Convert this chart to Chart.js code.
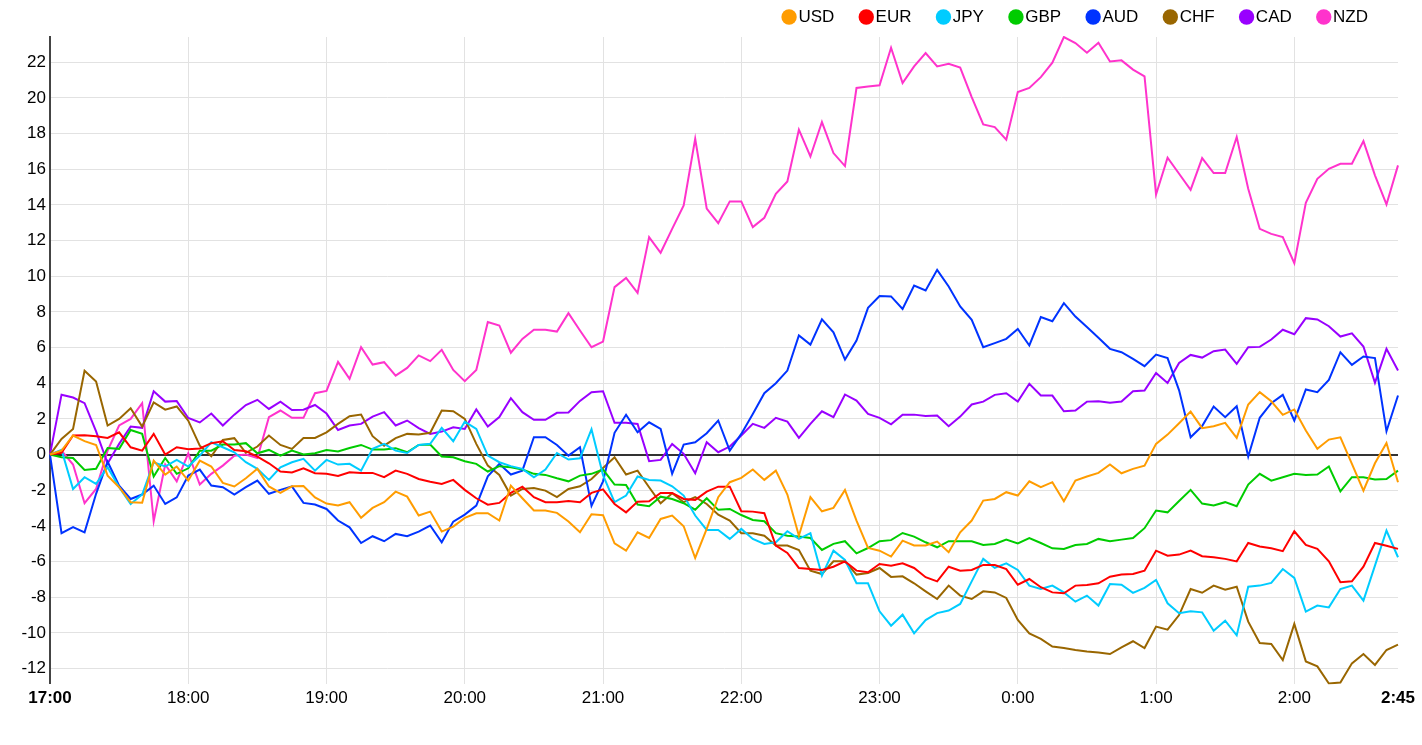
<!DOCTYPE html>
<html>
<head>
<meta charset="utf-8">
<script src="https://cdn.jsdelivr.net/npm/chart.js@4.4.1/dist/chart.umd.min.js"></script>
<style>
  html, body { margin: 0; padding: 0; background: #fff; }
  #wrap { width: 1422px; height: 745px; position: relative; }
</style>
</head>
<body>
<div id="wrap"><canvas id="c"></canvas></div>
<script>
const times = [
"17:00","17:05","17:10","17:15","17:20","17:25","17:30","17:35","17:40","17:45","17:50","17:55",
"18:00","18:05","18:10","18:15","18:20","18:25","18:30","18:35","18:40","18:45","18:50","18:55",
"19:00","19:05","19:10","19:15","19:20","19:25","19:30","19:35","19:40","19:45","19:50","19:55",
"20:00","20:05","20:10","20:15","20:20","20:25","20:30","20:35","20:40","20:45","20:50","20:55",
"21:00","21:05","21:10","21:15","21:20","21:25","21:30","21:35","21:40","21:45","21:50","21:55",
"22:00","22:05","22:10","22:15","22:20","22:25","22:30","22:35","22:40","22:45","22:50","22:55",
"23:00","23:05","23:10","23:15","23:20","23:25","23:30","23:35","23:40","23:45","23:50","23:55",
"0:00","0:05","0:10","0:15","0:20","0:25","0:30","0:35","0:40","0:45","0:50","0:55",
"1:00","1:05","1:10","1:15","1:20","1:25","1:30","1:35","1:40","1:45","1:50","1:55",
"2:00","2:05","2:10","2:15","2:20","2:25","2:30","2:35","2:40","2:45"
];

const yTicks = [-12,-10,-8,-6,-4,-2,0,2,4,6,8,10,12,14,16,18,20,22];

const currencies = ["USD","EUR","JPY","GBP","AUD","CHF","CAD","NZD"];
const colors = ["#ff9c00","#ff0000","#00ccff","#00cc00","#0033ff","#996600","#9900ff","#ff33cc"];

const usd = [
0,0.22,1.07,0.75,0.54,-1.18,-1.83,-2.67,-2.7,-0.34,
-1.12,-0.67,-1.46,-0.34,-0.67,-1.59,-1.79,-1.33,-0.8,-1.79,
-2.15,-1.78,-1.76,-2.4,-2.75,-2.86,-2.67,-3.55,-2.99,-2.67,
-2.08,-2.36,-3.42,-3.2,-4.32,-4.04,-3.55,-3.29,-3.29,-3.7,
-1.74,-2.45,-3.14,-3.14,-3.27,-3.75,-4.36,-3.35,-3.4,-4.98,
-5.39,-4.36,-4.68,-3.61,-3.42,-4.02,-5.8,-4.17,-2.39,-1.55,
-1.31,-0.84,-1.42,-0.9,-2.24,-4.55,-2.39,-3.18,-2.99,-1.98,
-3.7,-5.24,-5.39,-5.72,-4.83,-5.1,-5.1,-4.88,-5.48,-4.36,
-3.7,-2.58,-2.49,-2.11,-2.3,-1.5,-1.83,-1.55,-2.62,-1.46,
-1.23,-1.03,-0.56,-1.05,-0.8,-0.62,0.6,1.12,1.76,2.41,
1.48,1.59,1.78,0.94,2.81,3.5,2.99,2.23,2.53,1.35,
0.32,0.84,0.97,-0.52,-2.02,-0.49,0.65,-1.55];

const eur = [
0,0.1,1.07,1.08,1.03,0.93,1.25,0.41,0.22,1.16,
0,0.41,0.3,0.34,0.64,0.75,0.26,0.19,-0.11,-0.49,
-0.95,-1.0,-0.77,-1.05,-1.08,-1.2,-0.99,-1.03,-1.03,-1.27,
-0.9,-1.08,-1.37,-1.52,-1.65,-1.42,-1.98,-2.45,-2.81,-2.71,
-2.15,-1.8,-2.39,-2.67,-2.67,-2.6,-2.67,-2.15,-1.95,-2.77,
-3.24,-2.64,-2.62,-2.15,-2.15,-2.49,-2.54,-2.08,-1.8,-1.8,
-3.18,-3.2,-3.29,-5.1,-5.52,-6.36,-6.42,-6.47,-6.29,-5.99,
-6.51,-6.6,-6.14,-6.23,-6.1,-6.36,-6.88,-7.11,-6.29,-6.51,
-6.47,-6.19,-6.19,-6.42,-7.3,-6.98,-7.44,-7.73,-7.78,-7.35,
-7.31,-7.22,-6.85,-6.73,-6.7,-6.51,-5.39,-5.67,-5.61,-5.39,
-5.7,-5.76,-5.85,-5.99,-4.96,-5.16,-5.26,-5.42,-4.3,-5.07,
-5.29,-5.99,-7.16,-7.11,-6.29,-4.96,-5.11,-5.29];

const jpy = [
0,0.26,-1.93,-1.27,-1.64,-0.71,-1.83,-2.77,-2.24,-0.43,
-0.67,-0.3,-0.67,-0.06,0.69,0.41,0.13,-0.43,-0.8,-1.42,
-0.71,-0.43,-0.24,-0.9,-0.3,-0.56,-0.52,-0.9,0.32,0.6,
0.22,0.09,0.54,0.6,1.5,0.75,1.85,1.44,-0.06,-0.43,
-0.65,-0.8,-1.27,-0.84,0.09,-0.28,-0.21,1.42,-1.15,-2.67,
-2.3,-1.23,-1.42,-1.46,-1.78,-2.3,-3.42,-4.23,-4.23,-4.73,
-4.17,-4.73,-5.01,-4.92,-4.3,-4.73,-4.41,-6.79,-5.39,-5.91,
-7.22,-7.22,-8.79,-9.6,-8.98,-10.03,-9.28,-8.89,-8.75,-8.38,
-7.11,-5.85,-6.36,-6.1,-6.47,-7.35,-7.54,-7.35,-7.73,-8.25,
-7.91,-8.47,-7.26,-7.3,-7.76,-7.48,-7.03,-8.34,-8.9,-8.79,
-8.85,-9.88,-9.32,-10.14,-7.41,-7.35,-7.2,-6.42,-6.92,-8.81,
-8.47,-8.57,-7.54,-7.35,-8.19,-6.23,-4.26,-5.76];

const gbp = [
0,-0.15,-0.19,-0.86,-0.8,0.37,0.32,1.38,1.16,-1.23,
-0.19,-1.08,-0.77,0.22,0.22,0.56,0.56,0.64,0.07,0.26,
-0.06,0.22,0,0.07,0.26,0.17,0.37,0.54,0.28,0.28,
0.36,0.13,0.54,0.56,-0.11,-0.15,-0.37,-0.52,-0.95,-0.65,
-0.71,-0.84,-1.08,-1.14,-1.33,-1.5,-1.18,-1.08,-0.84,-1.68,
-1.7,-2.8,-2.9,-2.36,-2.49,-2.73,-3.09,-2.45,-3.1,-3.05,
-3.39,-3.67,-3.74,-4.41,-4.55,-4.6,-4.68,-5.35,-5.01,-4.86,
-5.54,-5.24,-4.86,-4.8,-4.4,-4.6,-4.92,-5.2,-4.86,-4.86,
-4.86,-5.07,-5.01,-4.77,-4.98,-4.68,-4.96,-5.26,-5.29,-5.07,
-5.01,-4.73,-4.86,-4.77,-4.68,-4.13,-3.14,-3.24,-2.6,-1.98,
-2.75,-2.86,-2.67,-2.9,-1.68,-1.08,-1.46,-1.27,-1.08,-1.14,
-1.12,-0.67,-2.06,-1.27,-1.27,-1.4,-1.37,-0.9];

const aud = [
0,-4.41,-4.07,-4.36,-2.2,-0.4,-1.74,-2.49,-2.24,-1.74,
-2.77,-2.4,-1.18,-0.84,-1.74,-1.83,-2.24,-1.83,-1.46,-2.2,
-1.98,-1.78,-2.71,-2.8,-3.05,-3.7,-4.08,-4.96,-4.58,-4.86,
-4.45,-4.58,-4.32,-3.98,-4.92,-3.76,-3.37,-2.86,-1.22,-0.52,
-1.12,-0.9,0.97,0.97,0.54,-0.06,0.41,-2.88,-1.5,1.22,
2.23,1.25,1.81,1.44,-1.08,0.56,0.69,1.2,1.91,0.22,
1.16,2.28,3.44,4.0,4.71,6.68,6.17,7.58,6.86,5.33,
6.4,8.23,8.89,8.87,8.17,9.48,9.2,10.36,9.43,8.31,
7.56,6.02,6.25,6.49,7.05,6.12,7.71,7.48,8.49,7.74,
7.15,6.55,5.93,5.74,5.37,4.96,5.61,5.41,3.6,0.97,
1.6,2.69,2.1,2.71,-0.11,2.06,2.88,3.35,1.91,3.65,
3.5,4.19,5.74,5.03,5.5,5.41,1.31,3.31];

const chf = [
0,0.88,1.44,4.7,4.1,1.63,2.0,2.6,1.57,2.93,
2.52,2.7,1.9,0.5,-0.1,0.82,0.92,0.1,0.45,1.07,
0.54,0.32,0.93,0.93,1.25,1.72,2.15,2.24,1.03,0.5,
0.92,1.16,1.12,1.22,2.47,2.43,2.0,0.6,-0.62,-1.14,
-2.3,-1.93,-1.87,-2.02,-2.39,-1.93,-1.78,-1.37,-0.75,-0.15,
-1.12,-0.9,-1.83,-2.73,-2.17,-2.67,-2.39,-2.77,-3.37,-3.7,
-4.41,-4.41,-4.55,-5.1,-5.1,-5.35,-6.51,-6.7,-5.99,-5.99,
-6.73,-6.64,-6.36,-6.86,-6.83,-7.22,-7.67,-8.1,-7.35,-7.91,
-8.1,-7.67,-7.73,-8.04,-9.28,-10.03,-10.34,-10.77,-10.85,-10.96,
-11.04,-11.1,-11.19,-10.81,-10.47,-10.85,-9.65,-9.82,-9.0,-7.54,
-7.75,-7.35,-7.58,-7.41,-9.37,-10.57,-10.62,-11.52,-9.5,-11.6,
-11.88,-12.84,-12.78,-11.71,-11.19,-11.8,-10.96,-10.66];

const cad = [
0,3.36,3.2,2.88,1.3,-0.5,0.6,1.57,1.5,3.55,
2.97,3.0,2.05,1.8,2.3,1.63,2.24,2.78,3.07,2.56,
2.97,2.5,2.52,2.78,2.3,1.38,1.63,1.72,2.13,2.38,
1.63,1.91,1.48,1.16,1.29,1.53,1.44,2.53,1.57,2.1,
3.16,2.38,1.95,1.95,2.34,2.36,3.01,3.5,3.55,1.78,
1.78,1.72,-0.37,-0.3,0.6,0.04,-1.05,0.69,0.13,0.45,
1.07,1.72,1.5,2.06,1.85,0.94,1.72,2.43,2.1,3.37,
3.03,2.28,2.06,1.7,2.24,2.24,2.17,2.19,1.59,2.13,
2.81,2.97,3.35,3.44,2.97,3.97,3.31,3.31,2.43,2.47,
2.97,2.99,2.9,2.97,3.55,3.59,4.58,4.02,5.14,5.59,
5.44,5.8,5.89,5.09,6.02,6.04,6.45,7.0,6.75,7.65,
7.58,7.2,6.62,6.8,6.06,4.02,5.93,4.71];

const nzd = [
0,0.22,-0.56,-2.73,-1.93,0.22,1.63,2.0,2.88,-3.74,
-0.56,-1.5,0.07,-1.68,-1.08,-0.62,-0.06,0,-0.19,2.1,
2.47,2.06,2.06,3.44,3.57,5.2,4.25,6.02,5.05,5.18,
4.43,4.86,5.56,5.24,5.87,4.75,4.12,4.75,7.43,7.24,
5.71,6.49,7.0,7.0,6.9,7.93,6.96,6.02,6.34,9.39,
9.91,9.07,12.2,11.32,12.66,13.97,17.71,13.79,12.98,14.2,
14.2,12.76,13.28,14.63,15.32,18.22,16.72,18.65,16.91,16.18,
20.56,20.65,20.71,22.82,20.84,21.77,22.52,21.77,21.92,21.7,
20.05,18.52,18.37,17.66,20.33,20.56,21.17,21.98,23.42,23.08,
22.54,23.1,22.05,22.11,21.59,21.21,14.59,16.65,15.75,14.85,
16.63,15.79,15.79,17.81,14.91,12.66,12.38,12.2,10.74,14.12,
15.47,16.03,16.31,16.31,17.58,15.66,14.03,16.22];

const seriesValues = [usd, eur, jpy, gbp, aud, chf, cad, nzd];
const FONT = '"Liberation Sans", Arial, sans-serif';
const lastIdx = times.length - 1;

const topLegend = {
  id: 'topLegend',
  afterDraw(chart) {
    const ctx = chart.ctx;
    const ds = chart.data.datasets;
    const r = 7.7, gap = 1.6, space = 24.3;
    const cy = 17;
    ctx.save();
    ctx.font = '17px ' + FONT;
    ctx.textBaseline = 'middle';
    ctx.textAlign = 'left';
    let x = chart.chartArea.right - 30;
    for (let i = ds.length - 1; i >= 0; i--) {
      const w = ctx.measureText(ds[i].label).width;
      const tx = x - w;
      ctx.fillStyle = '#000';
      ctx.fillText(ds[i].label, tx, cy);
      const cx = tx - gap - r;
      ctx.beginPath();
      ctx.arc(cx, cy, r, 0, Math.PI * 2);
      ctx.fillStyle = ds[i].borderColor;
      ctx.fill();
      x = cx - r - space;
    }
    ctx.restore();
  }
};

new Chart(document.getElementById('c'), {
  type: 'line',
  data: {
    labels: times,
    datasets: currencies.map((c, i) => ({
      label: c,
      data: seriesValues[i],
      borderColor: colors[i],
      backgroundColor: colors[i],
      borderWidth: 2,
      pointRadius: 0,
      pointHoverRadius: 0,
      tension: 0,
      fill: false
    }))
  },
  options: {
    responsive: true,
    maintainAspectRatio: false,
    animation: false,
    layout: { padding: { top: 37, right: 24, bottom: 0, left: 0 } },
    plugins: {
      legend: { display: false },
      tooltip: { enabled: false },
      title: { display: false }
    },
    scales: {
      x: {
        type: 'category',
        offset: false,
        afterBuildTicks(scale) {
          scale.ticks = scale.ticks.filter(t => t.value % 12 === 0 || t.value === lastIdx);
        },
        afterFit(scale) { scale.height = 61.5; },
        ticks: {
          autoSkip: false,
          maxRotation: 0,
          minRotation: 0,
          padding: 5,
          color: '#000',
          font: (ctx) => ({
            family: FONT,
            size: 17,
            weight: (ctx.tick && (ctx.tick.value === 0 || ctx.tick.value === lastIdx)) ? 'bold' : 'normal'
          })
        },
        grid: {
          drawTicks: false,
          color: (ctx) => (ctx.tick && ctx.tick.value === lastIdx) ? 'rgba(0,0,0,0)' : '#e2e2e2',
          lineWidth: 1
        },
        border: { display: false }
      },
      y: {
        type: 'linear',
        bounds: 'data',
        afterBuildTicks(scale) {
          scale.ticks = yTicks.map(v => ({ value: v }));
        },
        afterFit(scale) { scale.width = 50; },
        ticks: {
          padding: 4,
          color: '#000',
          font: { family: FONT, size: 17 },
          callback: (v) => String(v)
        },
        grid: {
          drawTicks: false,
          color: (ctx) => (ctx.tick && ctx.tick.value === 0) ? '#333333' : '#e2e2e2',
          lineWidth: (ctx) => (ctx.tick && ctx.tick.value === 0) ? 2 : 1
        },
        border: { display: true, color: '#444444', width: 2 }
      }
    }
  },
  plugins: [topLegend]
});
</script>
</body>
</html>
